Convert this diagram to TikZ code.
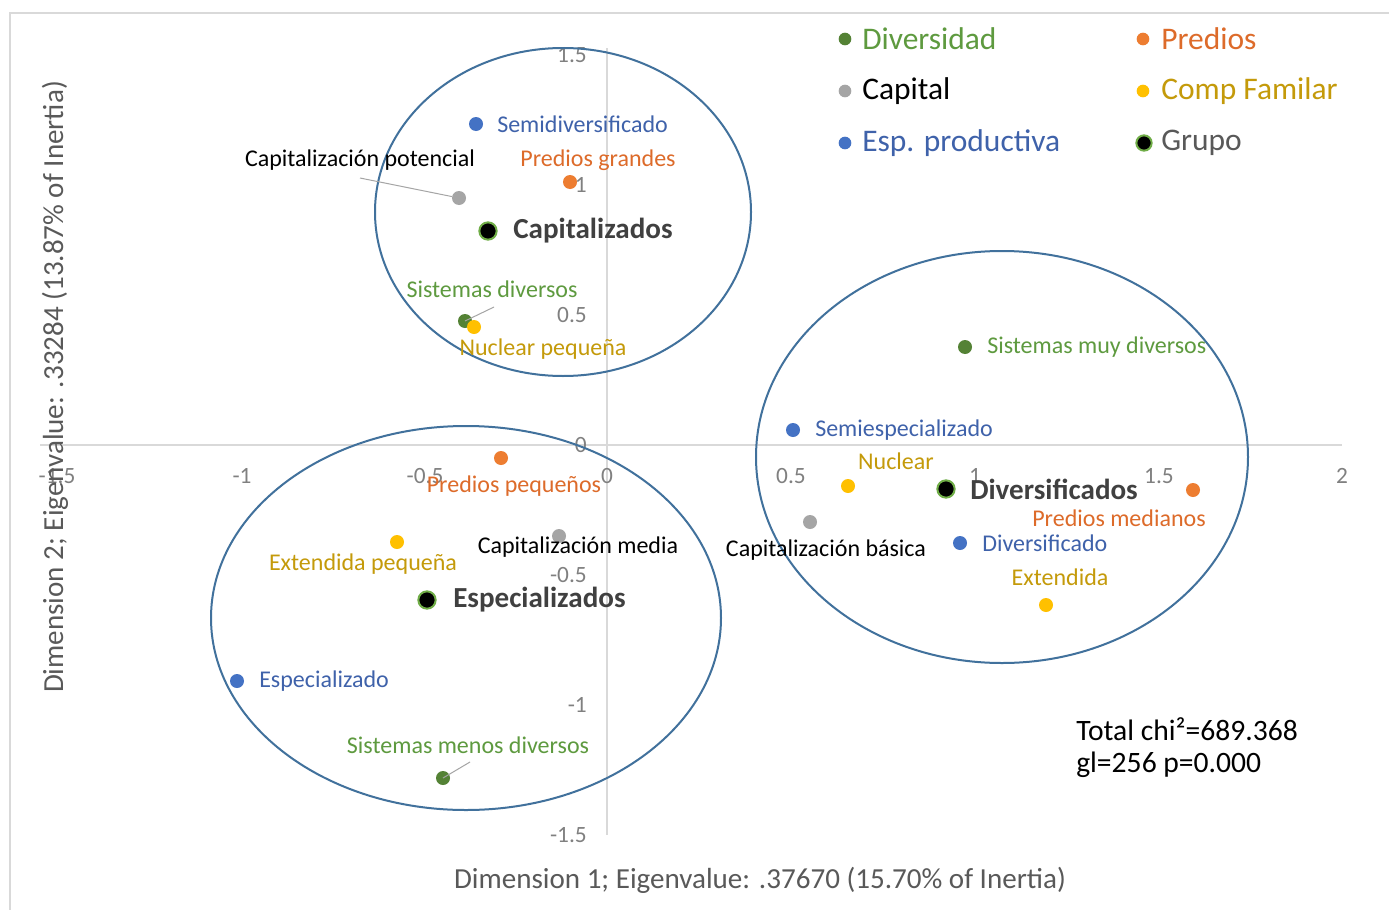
\documentclass[tikz,border=0pt]{standalone}
\usepackage{fontspec}
\setmainfont{Carlito}
\definecolor{cgreen}{HTML}{548235}
\definecolor{tgreen}{HTML}{5E9A3F}
\definecolor{corange}{HTML}{ED7D31}
\definecolor{torange}{HTML}{DD6B2A}
\definecolor{cgrey}{HTML}{A5A5A5}
\definecolor{cyellow}{HTML}{FFC000}
\definecolor{tyellow}{HTML}{C49A0A}
\definecolor{cblue}{HTML}{4472C4}
\definecolor{tblue}{HTML}{3F62AA}
\definecolor{ringc}{HTML}{70AD47}
\definecolor{ellc}{HTML}{41719C}
\definecolor{axisc}{HTML}{D9D9D9}
\definecolor{tickc}{HTML}{808080}
\definecolor{titlec}{HTML}{595959}
\definecolor{grpc}{HTML}{404040}
\begin{document}
\begin{tikzpicture}[x=0.75pt,y=-0.75pt,
  dot/.style={circle,inner sep=0pt,minimum size=10.5pt},
  grp/.style={circle,inner sep=0pt,minimum size=13pt,fill=black,draw=ringc,line width=1.5pt},
  ldot/.style={circle,inner sep=0pt,minimum size=9.5pt},
  lgrp/.style={circle,inner sep=0pt,minimum size=11.5pt,fill=black,draw=ringc,line width=1.5pt},
  lbl/.style={font=\fontsize{18}{20}\selectfont,inner sep=0pt},
  glbl/.style={font=\fontsize{21.8}{24}\selectfont\bfseries,inner sep=0pt,text=grpc,anchor=west},
  leg/.style={font=\fontsize{23.6}{26}\selectfont,inner sep=0pt,anchor=west},
  tk/.style={font=\fontsize{17.5}{20}\selectfont,inner sep=0pt,text=tickc},
  ttl/.style={font=\fontsize{21.8}{24}\selectfont,inner sep=0pt,text=titlec},
  lead/.style={draw=cgrey,line width=0.75pt},
  ellip/.style={draw=ellc,line width=1.5pt}]
\useasboundingbox (0,0) rectangle (1389,910);
\fill[white] (0,0) rectangle (1389,910);
% frame
\draw[axisc,line width=1.5pt] (10,910) -- (10,13) -- (1389,13);
% axes
\draw[axisc,line width=1pt] (40,445) -- (1342,445);
\draw[axisc,line width=1pt] (607,48) -- (607,835);
% y ticks
\foreach \v/\yy in {1.5/55,1/185,0.5/315,0/445,-0.5/575,-1/705,-1.5/835}
  \node[tk,anchor=east] (yt\yy) at (587,\yy) {\v};
% x ticks
\foreach \v/\xx in {-1.5/57,-1/242,-0.5/425,0/607,0.5/791,1/975,1.5/1159,2/1342}
  \node[tk] (xt\xx) at (\xx,476) {\v};
% axis titles
\node[ttl] (xtitle) at (760,880) {Dimension 1; Eigenvalue: .37670 (15.70\% of Inertia)};
\node[ttl,rotate=90] (ytitle) at (55,387) {Dimension 2; Eigenvalue: .33284 (13.87\% of Inertia)};
% ellipses
\draw[ellip] (563,212) ellipse [x radius=188, y radius=164];
\draw[ellip] (1002,457) ellipse [x radius=246, y radius=206];
\draw[ellip] (466,618) ellipse [x radius=255, y radius=192];
% cluster: Capitalizados
\node[dot,fill=cblue] (semid) at (476,124) {};
\node[lbl,text=tblue,anchor=west] (lsemid) at (497,124) {Semidiversificado};
\node[dot,fill=cgrey] (cappot) at (459,198) {};
\node[lbl,text=black] (lcappot) at (360,160) {Capitalización potencial};
\coordinate (ccappot) at (360,178);
\draw[lead] (ccappot) -- (cappot);
\node[dot,fill=corange] (predg) at (570,182) {};
\node[lbl,text=torange] (lpredg) at (598,160) {Predios grandes};
\node[grp] (gcap) at (488,231) {};
\node[glbl] (lgcap) at (513,231) {Capitalizados};
\node[dot,fill=cgreen] (sisdiv) at (465,321) {};
\node[lbl,text=tgreen] (lsisdiv) at (492,289) {Sistemas diversos};
\coordinate (csisdiv) at (494,307);
\draw[lead] (csisdiv) -- (sisdiv.center);
\node[dot,fill=cyellow] (nucpeq) at (474,327) {};
\node[lbl,text=tyellow] (lnucpeq) at (543,349) {Nuclear pequeña};
% cluster: Diversificados
\node[dot,fill=cgreen] (sismuy) at (965,347) {};
\node[lbl,text=tgreen,anchor=west] (lsismuy) at (987,347) {Sistemas muy diversos};
\node[dot,fill=cblue] (semiesp) at (793,430) {};
\node[lbl,text=tblue,anchor=west] (lsemiesp) at (815,430) {Semiespecializado};
\node[dot,fill=cyellow] (nuc) at (848,486) {};
\node[lbl,text=tyellow] (lnuc) at (896,461) {Nuclear};
\node[grp] (gdiv) at (946,489) {};
\node[glbl] (lgdiv) at (970,489) {Diversificados};
\node[dot,fill=corange] (predm) at (1193,490) {};
\node[lbl,text=torange] (lpredm) at (1119,518) {Predios medianos};
\node[dot,fill=cgrey] (capbas) at (810,522) {};
\node[lbl,text=black] (lcapbas) at (826,550) {Capitalización básica};
\node[dot,fill=cblue] (divf) at (960,543) {};
\node[lbl,text=tblue,anchor=west] (ldivf) at (982,543) {Diversificado};
\node[dot,fill=cyellow] (ext) at (1046,605) {};
\node[lbl,text=tyellow] (lext) at (1060,577) {Extendida};
% cluster: Especializados
\node[dot,fill=corange] (predp) at (501,458) {};
\node[lbl,text=torange] (lpredp) at (514,486) {Predios pequeños};
\node[dot,fill=cgrey] (capmed) at (559,536) {};
\node[lbl,text=black] (lcapmed) at (578,547) {Capitalización media};
\node[dot,fill=cyellow] (extpeq) at (397,542) {};
\node[lbl,text=tyellow] (lextpeq) at (363,564) {Extendida pequeña};
\node[grp] (gesp) at (427,600) {};
\node[glbl] (lgesp) at (453,600) {Especializados};
\node[dot,fill=cblue] (esp) at (237,681) {};
\node[lbl,text=tblue,anchor=west] (lesp) at (259,681) {Especializado};
\node[dot,fill=cgreen] (sismen) at (443,778) {};
\node[lbl,text=tgreen] (lsismen) at (468,745) {Sistemas menos diversos};
\coordinate (csismen) at (470,762);
\draw[lead] (csismen) -- (sismen.center);
% legend
\node[ldot,fill=cgreen] (lgd1) at (845,39) {};
\node[leg,text=tgreen] (lgt1) at (862,39) {Diversidad};
\node[ldot,fill=corange] (lgd2) at (1143,39) {};
\node[leg,text=torange] (lgt2) at (1161,39) {Predios};
\node[ldot,fill=cgrey] (lgd3) at (845,91) {};
\node[leg,text=black] (lgt3) at (862,91) {Capital};
\node[ldot,fill=cyellow] (lgd4) at (1143,91) {};
\node[leg,text=tyellow] (lgt4) at (1161,91) {Comp Familar};
\node[ldot,fill=cblue] (lgd5) at (845,143) {};
\node[leg,text=tblue] (lgt5) at (862,143) {Esp. productiva};
\node[lgrp] (lgd6) at (1144,143) {};
\node[leg,text=titlec] (lgt6) at (1161,143) {Grupo};
% statistics
\node[font=\fontsize{22.2}{26}\selectfont,inner sep=0pt,anchor=west] (chi) at (1076,729) {Total chi²=689.368};
\node[font=\fontsize{22.2}{26}\selectfont,inner sep=0pt,anchor=west] (gl) at (1076,765) {gl=256 p=0.000};
\end{tikzpicture}
\end{document}
